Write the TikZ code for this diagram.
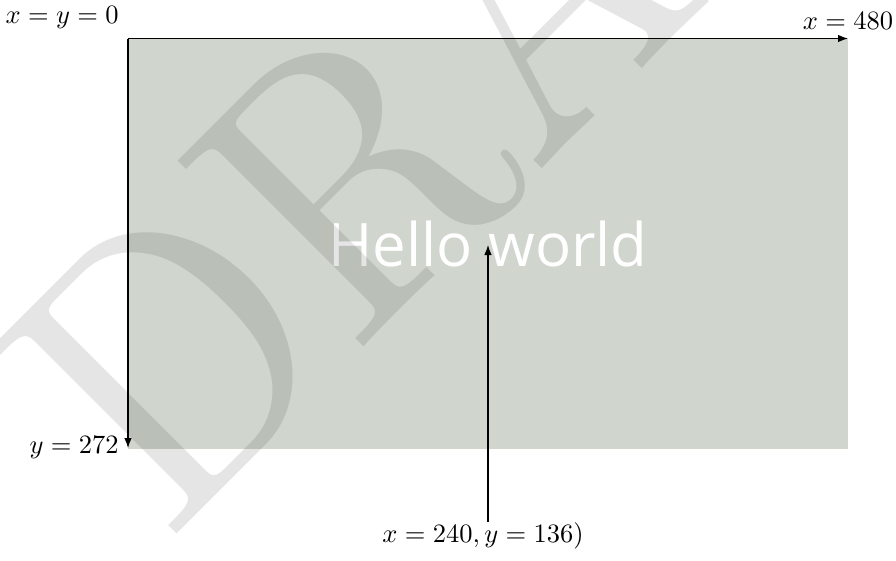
\documentclass[tikz,border=0pt]{standalone}
\usepackage{fontspec}
\newfontfamily\hellofont{Open Sans}
\usetikzlibrary{arrows.meta}
\definecolor{screen}{RGB}{208,213,206}
\begin{document}
\begin{tikzpicture}[x=1pt,y=-1pt,
  arr/.style={line width=1.05pt,-{Latex[length=10pt,width=7.5pt]}},
  lbl/.style={scale=2.65},
  wm/.style={inner sep=0pt,rotate=45,xscale=34.5,yscale=38.5,text=black,text opacity=0.1,
    font=\fontsize{10}{12}\selectfont}]
\useasboundingbox (0,0) rectangle (896,560);
\fill[screen] (128,38.5) rectangle (848,448.5);
\node[font=\hellofont\fontsize{60}{72}\selectfont, text=white] (hello) at (488,243.5) {Hello world};
\coordinate (o) at (128,38.5);
\coordinate (xe) at (848,38.5);
\coordinate (ye) at (128,448);
\coordinate (c) at (488,245);
\coordinate (cs) at (488,522);
\draw[arr] (o) -- (xe);
\draw[arr] (o) -- (ye);
\draw[arr] (cs) -- (c);
\node[lbl,anchor=south east] (l0) at (o) {$x=y=0$};
\node[lbl,anchor=south] (lx) at (xe) {$x=480$};
\node[lbl,anchor=east] (ly) at (ye) {$y=272$};
\node[lbl,anchor=base] (lc) at (483,542) {$x=240, y=136)$};
\node[wm,anchor=base west] (draft) at (164,547) {DRAFT};
\end{tikzpicture}
\end{document}
